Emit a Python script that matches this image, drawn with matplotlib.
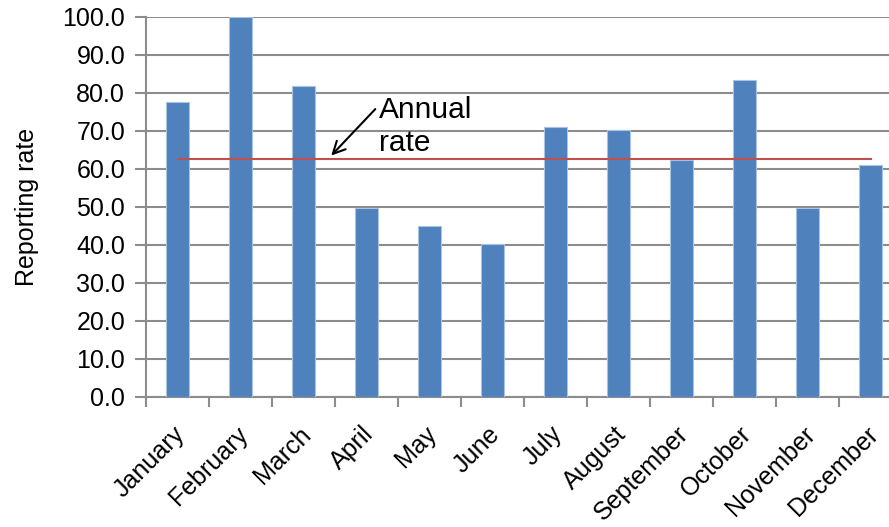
import matplotlib
matplotlib.use("Agg")
import matplotlib.pyplot as plt
import matplotlib.transforms as mtransforms
import numpy as np

months = ["January", "February", "March", "April", "May", "June", "July",
          "August", "September", "October", "November", "December"]
rates = [77.7, 100.0, 81.9, 49.7, 44.9, 40.2, 71.1, 70.2, 62.3, 83.3, 49.7, 61.1]
annual_rate = 62.7
y_ticks = [0, 10, 20, 30, 40, 50, 60, 70, 80, 90, 100]

plt.rcParams['font.family'] = ['Liberation Sans', 'DejaVu Sans']

fig = plt.figure(figsize=(8.89, 5.27), dpi=100)
ax = fig.add_axes([146/889, 1-397/527, 756/889, 380/527])

x = np.arange(len(months))
ax.bar(x, rates, width=0.38, color="#4f81bd", edgecolor="#a9c3e3", linewidth=0.8, zorder=3)
ax.plot([x[0], x[-1]], [annual_rate, annual_rate], color="#c0504d", linewidth=1.5, zorder=4)

ax.set_xlim(-0.5, len(months) - 0.5)
ax.set_ylim(0, 100)
ax.set_yticks(y_ticks)
ax.set_yticklabels([f"{v:.1f}" for v in y_ticks], fontsize=18)
ax.yaxis.grid(True, color="#8c8c8c", linewidth=1.5, zorder=0)
ax.set_axisbelow(True)

ax.set_xticks(x)
ax.set_xticklabels(months, rotation=45, ha="right", rotation_mode="anchor", fontsize=18)
ax.tick_params(axis="x", length=0, pad=18)
offset = mtransforms.ScaledTranslation(-5/100, 0, fig.dpi_scale_trans)
for lbl in ax.get_xticklabels():
    lbl.set_transform(lbl.get_transform() + offset)
ax.set_xticks(np.arange(-0.5, len(months)), minor=True)
ax.tick_params(axis="x", which="minor", length=7, width=1.5, color="#8c8c8c")
ax.tick_params(axis="y", length=8, width=1.5, color="#8c8c8c", pad=7)

for s in ["top", "right"]:
    ax.spines[s].set_visible(False)
for s in ["left", "bottom"]:
    ax.spines[s].set_color("#8c8c8c")
    ax.spines[s].set_linewidth(1.5)

ax.set_ylabel("Reporting rate", fontsize=18, labelpad=17)

ax.annotate("", xy=(2.41, 63.0), xytext=(3.17, 76.3),
            arrowprops=dict(arrowstyle="->", color="black", lw=1.5, mutation_scale=22), zorder=5)
ax.text(3.2, 79.3, "Annual\nrate", fontsize=21.5, va="top", ha="left", linespacing=1.25, zorder=5)

fig.savefig("out.png", dpi=100)
